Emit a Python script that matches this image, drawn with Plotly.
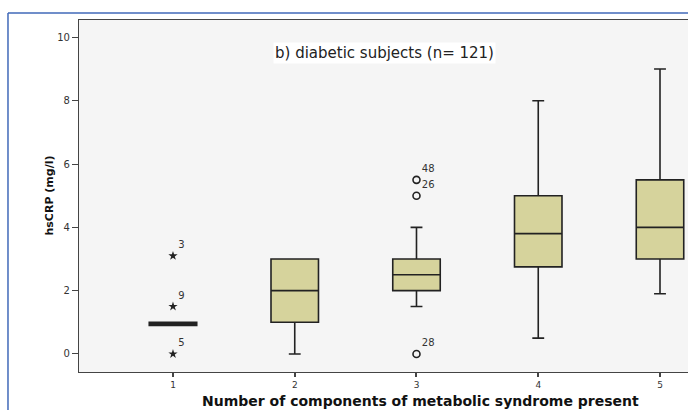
import plotly.graph_objects as go

# ---- data ----
categories = [1, 2, 3, 4, 5]
q1 = [0.90, 1.0, 2.0, 2.75, 3.0]
median = [0.95, 2.0, 2.5, 3.8, 4.0]
q3 = [1.0, 3.0, 3.0, 5.0, 5.5]
lower_whisker = [0.90, 0.0, 1.5, 0.5, 1.9]
upper_whisker = [1.0, 3.0, 4.0, 8.0, 9.0]

extreme_x = [1, 1, 1]
extreme_y = [3.1, 1.5, 0.0]
extreme_labels = ["3", "9", "5"]

outlier_x = [3, 3, 3]
outlier_y = [5.5, 5.0, 0.0]
outlier_labels = ["48", "26", "28"]

y_ticks = [0, 2, 4, 6, 8, 10]
x_ticks = [1, 2, 3, 4, 5]

title_text = "b) diabetic subjects (n= 121)"
x_title = "Number of components of metabolic syndrome present"
y_title = "hsCRP (mg/l)"

FONT = "Liberation Sans, Arial, sans-serif"
WIDE = "DejaVu Sans, Verdana, sans-serif"
DARK = "#222222"

fig = go.Figure()
fig.add_trace(go.Box(
    x=categories, q1=q1, median=median, q3=q3,
    lowerfence=lower_whisker, upperfence=upper_whisker,
    width=0.39, whiskerwidth=0.25,
    fillcolor="#d6d39c",
    line=dict(color=DARK, width=1.6),
    boxpoints=False, showlegend=False, hoverinfo="skip",
))
fig.add_trace(go.Scatter(
    x=extreme_x, y=extreme_y, mode="markers+text",
    text=extreme_labels, textposition="top right",
    textfont=dict(family=WIDE, size=10, color="#333333"),
    marker=dict(symbol="star", size=7, color=DARK),
    showlegend=False, hoverinfo="skip", cliponaxis=False,
))
fig.add_trace(go.Scatter(
    x=outlier_x, y=outlier_y, mode="markers+text",
    text=outlier_labels, textposition="top right",
    textfont=dict(family=WIDE, size=10, color="#333333"),
    marker=dict(symbol="circle-open", size=7, color=DARK, line=dict(width=1.6, color=DARK)),
    showlegend=False, hoverinfo="skip", cliponaxis=False,
))

fig.update_layout(
    width=688, height=410,
    margin=dict(l=79, r=0, t=20, b=38),
    paper_bgcolor="white", plot_bgcolor="#f5f5f5",
    font=dict(family=FONT, color="#333333"),
    xaxis=dict(range=[0.228, 5.23], tickvals=x_ticks, ticktext=[str(v) for v in x_ticks],
               showgrid=False, zeroline=False, showline=True, linecolor="#444444",
               linewidth=1.2, mirror=True, ticks="outside", ticklen=4, tickwidth=1.5,
               tickcolor="#444444", tickfont=dict(family=WIDE, size=9, color="#333333")),
    yaxis=dict(range=[-0.57, 10.55], tickvals=y_ticks,
               showgrid=False, zeroline=False, showline=True, linecolor="#444444",
               linewidth=1.2, ticks="outside", ticklen=6, tickwidth=1,
               tickcolor="#444444", tickfont=dict(family=WIDE, size=10, color="#333333")),
    annotations=[
        dict(text=title_text, x=0.502, y=0.9375, xref="paper", yref="paper",
             showarrow=False, bgcolor="white",
             font=dict(family=WIDE, size=15, color="#222222")),
        dict(text="<b>" + y_title + "</b>", x=-0.064, y=0.5, xref="paper", yref="paper",
             showarrow=False, textangle=-90,
             font=dict(family=WIDE, size=11, color="#111111")),
        dict(text="<b>" + x_title + "</b>", x=0.56, y=-0.108, xref="paper", yref="paper",
             yanchor="bottom", showarrow=False, borderpad=0,
             font=dict(family=WIDE, size=14, color="#111111")),
    ],
    shapes=[
        dict(type="line", xref="paper", yref="paper", x0=-0.1166, x1=-0.1166,
             y0=-0.12, y1=1.0199, line=dict(color="#4169b8", width=1.5)),
        dict(type="line", xref="paper", yref="paper", x0=-0.1166, x1=1.0,
             y0=1.0199, y1=1.0199, line=dict(color="#4169b8", width=1.5)),
    ],
)

fig.write_html("out.html", config={"displayModeBar": False},
               post_script="document.body.style.margin='0';document.body.style.overflow='hidden';")
